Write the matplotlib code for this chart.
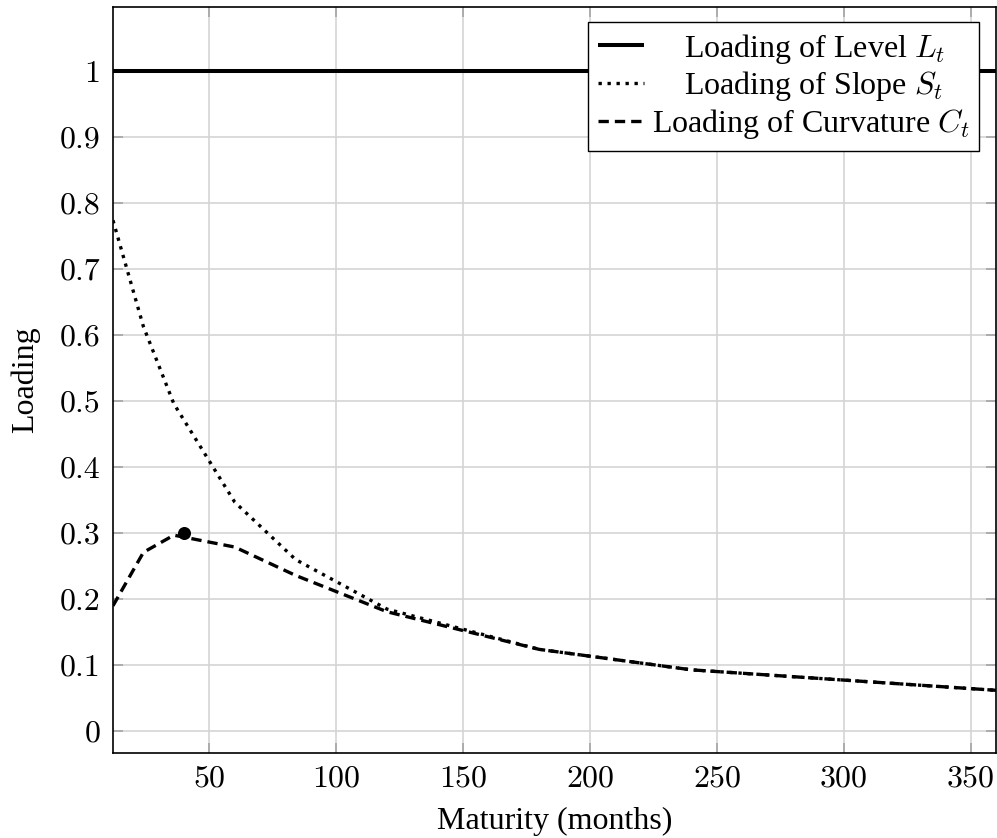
import matplotlib
matplotlib.use("Agg")
import matplotlib.pyplot as plt
from matplotlib.ticker import FixedLocator

# ---- data ----
maturities = [12, 24, 36, 60, 84, 120, 180, 240, 360]
level_loading = [1, 1, 1, 1, 1, 1, 1, 1, 1]
slope_loading = [0.774, 0.613, 0.496, 0.347, 0.260, 0.185, 0.124, 0.093, 0.062]
curv_loading = [0.190, 0.271, 0.297, 0.279, 0.236, 0.181, 0.124, 0.093, 0.062]
peak_x = [40]
peak_y = [0.30]
x_ticks = [50, 100, 150, 200, 250, 300, 350]
y_ticks = [0, 0.1, 0.2, 0.3, 0.4, 0.5, 0.6, 0.7, 0.8, 0.9, 1]
y_tick_labels = ["0", "0.1", "0.2", "0.3", "0.4", "0.5", "0.6", "0.7", "0.8", "0.9", "1"]
labels = ["    Loading of Level $L_t$", "    Loading of Slope $S_t$", "Loading of Curvature $C_t$"]

plt.rcParams['mathtext.fontset'] = 'cm'
plt.rcParams['font.family'] = ['Liberation Serif', 'DejaVu Serif']

FS = 23

fig = plt.figure(figsize=(9.97, 8.38), dpi=100)
ax = fig.add_axes([0.1133, 0.1014, 0.8857, 0.8902])

ax.plot(maturities, level_loading, color='black', lw=2.9, solid_capstyle='butt', label=labels[0])
ax.plot(maturities, slope_loading, color='black', lw=2.4, linestyle=(0, (1, 1.7)), label=labels[1])
ax.plot(maturities, curv_loading, color='black', lw=2.4, linestyle=(0, (3.1, 1.8)), label=labels[2])
ax.scatter(peak_x, peak_y, s=70, color='black', zorder=5)

ax.set_xlim(12, 360)
ax.set_ylim(-0.033, 1.097)
ax.xaxis.set_major_locator(FixedLocator(x_ticks))
ax.yaxis.set_major_locator(FixedLocator(y_ticks))
ax.set_xticklabels([str(v) for v in x_ticks], fontfamily='cmr10', fontsize=FS)
ax.set_yticklabels(y_tick_labels, fontfamily='cmr10', fontsize=FS)
ax.tick_params(axis='both', which='major', direction='in', length=7.5, width=1.1,
               color='#a0a0a0', top=True, right=True, pad=9)
ax.grid(True, color='#d4d4d4', lw=1.2)
ax.set_axisbelow(True)
for sp in ax.spines.values():
    sp.set_linewidth(1.2)
    sp.set_color('black')

ax.set_xlabel("Maturity (months)", fontsize=FS, labelpad=10)
ax.set_ylabel("Loading", fontsize=FS, labelpad=14)

leg = ax.legend(loc='upper right', bbox_to_anchor=(0.9807, 0.9800), borderaxespad=0,
                fontsize=FS, frameon=True, fancybox=False, framealpha=1,
                edgecolor='black', handlelength=1.45, handletextpad=0.25,
                borderpad=0.3, labelspacing=0.12)
leg.get_frame().set_linewidth(1.0)

fig.savefig("out.png", dpi=100)
